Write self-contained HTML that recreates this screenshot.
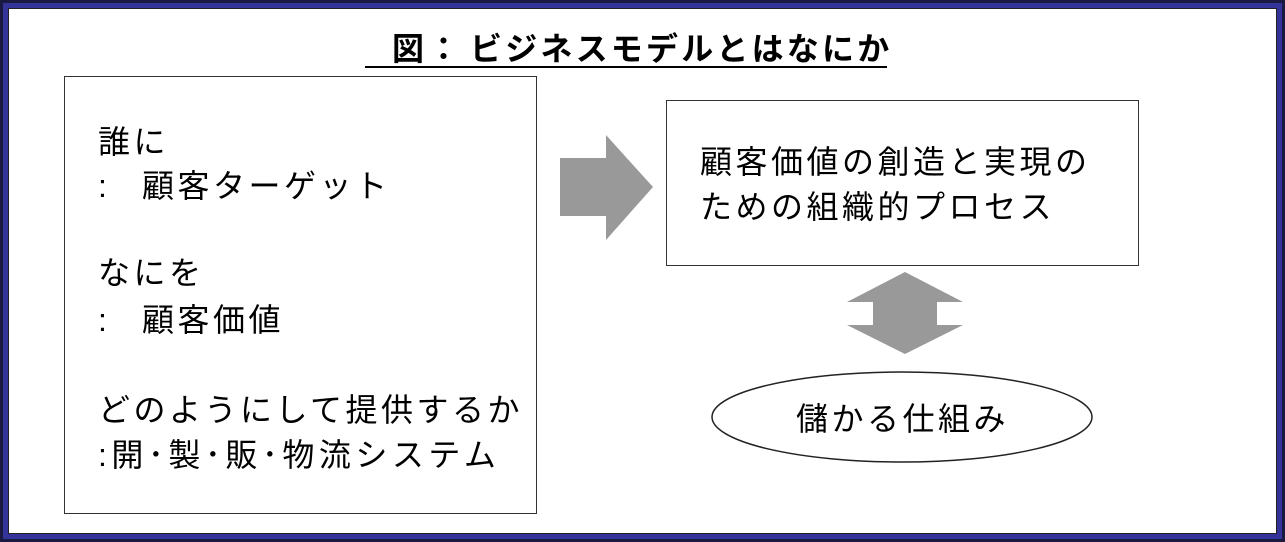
<!DOCTYPE html>
<html><head><meta charset="utf-8"><style>
body{margin:0;width:1285px;height:542px;overflow:hidden;background:#fff;font-family:"Liberation Sans","Noto Sans CJK JP",sans-serif;}
.frame{position:absolute;left:0;top:0;width:1285px;height:542px;box-sizing:border-box;border:3px solid #1a1a40;}
.frame2{position:absolute;left:3px;top:3px;right:3px;bottom:3px;border:5px solid #333399;}
.frame3{position:absolute;left:8px;top:8px;right:8px;bottom:8px;border:1px solid #222;}
.t{position:absolute;white-space:nowrap;color:#000;font-size:32px;line-height:30px;letter-spacing:3.5px;}
.box{position:absolute;border:1.5px solid #333;box-sizing:border-box;}
</style></head><body>
<div class="frame"></div><div class="frame2"></div><div class="frame3"></div>
<div class="t" style="left:392px;top:34px;font-weight:bold;">図：</div>
<div class="t" style="left:470px;top:34px;font-weight:bold;letter-spacing:3.2px;">ビジネスモデルとはなにか</div>
<div style="position:absolute;left:365px;top:66px;width:522px;height:2px;background:#000"></div>
<div class="box" style="left:64px;top:76px;width:473px;height:438px;"></div>
<div class="t" style="left:98px;top:127px;">誰に</div>
<div class="t" style="left:98px;top:171px;">:</div><div class="t" style="left:142px;top:171px;">顧客ターゲット</div>
<div class="t" style="left:98px;top:258px;">なにを</div>
<div class="t" style="left:98px;top:305px;">:</div><div class="t" style="left:142px;top:305px;">顧客価値</div>
<div class="t" style="left:98px;top:395px;">どのようにして提供するか</div>
<div class="t" style="left:98px;top:440px;letter-spacing:4.5px;">:開･製･販･物流システム</div>
<div class="box" style="left:666px;top:100px;width:473px;height:166px;"></div>
<div class="t" style="left:700px;top:147px;">顧客価値の創造と実現の</div>
<div class="t" style="left:700px;top:192px;">ための組織的プロセス</div>
<svg style="position:absolute;left:0;top:0" width="1285" height="542">
<polygon points="560,158 606,158 606,135 653,187 606,240 606,216 560,216" fill="#999"/>
<polygon points="905,272 963,302 937,302 937,325 963,325 905,354 847,325 873,325 873,302 847,302" fill="#999"/>
<ellipse cx="902" cy="417" rx="190" ry="45" fill="#fff" stroke="#222" stroke-width="1.5"/>
</svg>
<div class="t" style="left:796px;top:404px;">儲かる仕組み</div>
</body></html>
